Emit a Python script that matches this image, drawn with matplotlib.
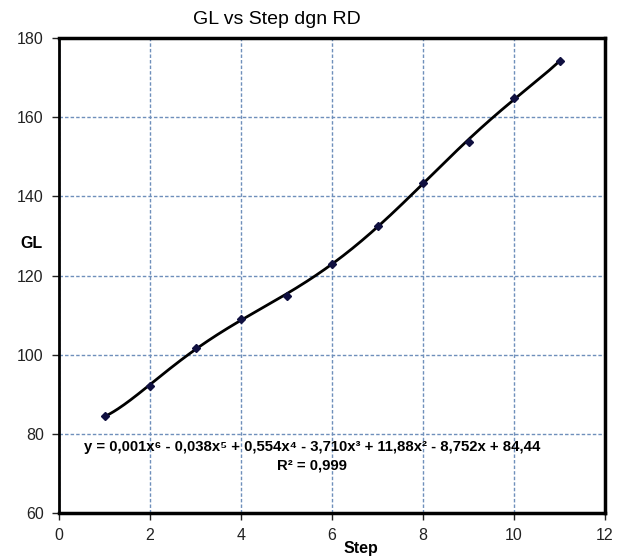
import numpy as np
import matplotlib
matplotlib.use('Agg')
import matplotlib.pyplot as plt

plt.rcParams['font.family'] = ['Liberation Sans', 'DejaVu Sans']

# data
steps = [1, 2, 3, 4, 5, 6, 7, 8, 9, 10, 11]
gl = [84.4, 92.2, 101.6, 108.9, 114.8, 123.0, 132.5, 143.4, 153.8, 164.8, 174.1]
x_ticks = [0, 2, 4, 6, 8, 10, 12]
y_ticks = [60, 80, 100, 120, 140, 160, 180]
eq_text = 'y = 0,001x\u2076 - 0,038x\u2075 + 0,554x\u2074 - 3,710x\u00b3 + 11,88x\u00b2 - 8,752x + 84,44'
r2_text = 'R\u00b2 = 0,999'

fig = plt.figure(figsize=(6.22, 5.58), dpi=100)
ax = fig.add_axes([59/622, 1 - 513/558, 546/622, (513 - 38)/558])

# 6th order trendline fitted to the points
coef = np.polyfit(steps, gl, 6)
xs = np.linspace(min(steps), max(steps), 300)
ax.plot(xs, np.polyval(coef, xs), color='black', lw=2, zorder=3)
ax.plot(steps, gl, ls='none', marker='D', ms=4.5, color='#101040', zorder=4)

ax.set_xlim(0, 12)
ax.set_ylim(60, 180)
ax.set_xticks(x_ticks)
ax.set_yticks(y_ticks)
ax.grid(True, color='#6f8fbb', ls=(0, (2.5, 1.5)), lw=1)
ax.set_axisbelow(True)
for s in ax.spines.values():
    s.set_linewidth(2.5)
    s.set_color('black')
ax.spines['left'].set_linewidth(2)
ax.tick_params(direction='out', length=5, width=1, labelsize=11.5, colors='#222222', pad=6)

fig.text(277/622, 1 - 20/558, 'GL vs Step dgn RD', ha='center', va='center', fontsize=14)
fig.text(31/622, 1 - 244/558, 'GL', ha='center', va='center', fontsize=11.5, fontweight='bold')
fig.text(361/622, 1 - 548/558, 'Step', ha='center', va='center', fontsize=11.5, fontweight='bold')
fig.text(312/622, 1 - 447/558, eq_text, ha='center', va='center', fontsize=10.7, fontweight='bold')
fig.text(312/622, 1 - 465/558, r2_text, ha='center', va='center', fontsize=10.7, fontweight='bold')

fig.savefig('out.png', dpi=100)
